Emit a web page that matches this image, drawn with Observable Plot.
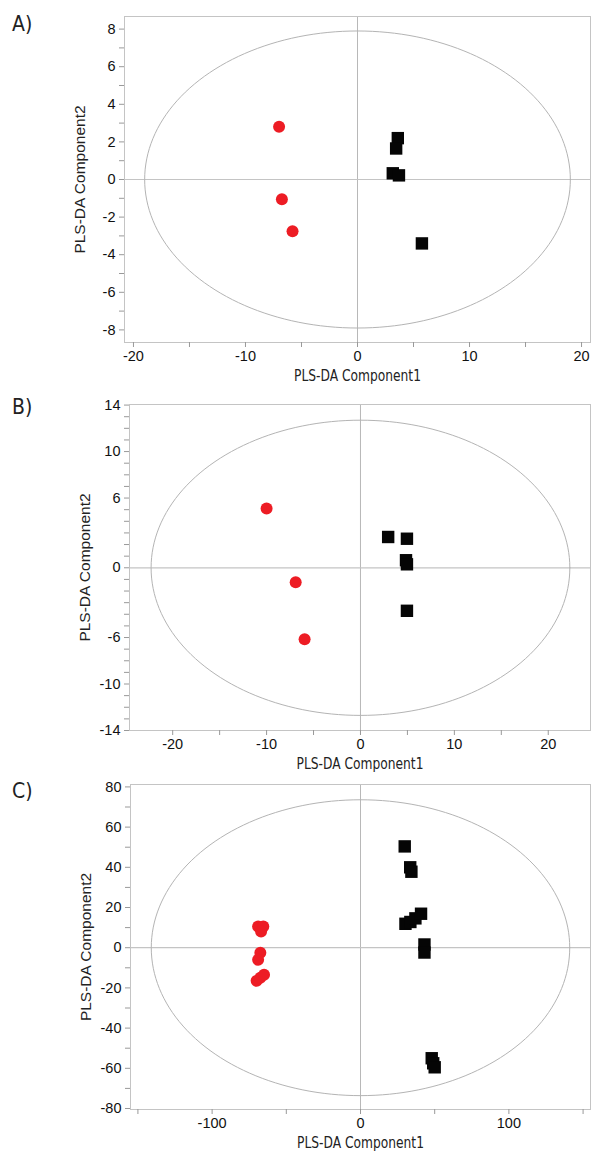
<!DOCTYPE html>
<html>
<head>
<meta charset="utf-8">
<script src="https://cdn.jsdelivr.net/npm/d3@7"></script>
<script src="https://cdn.jsdelivr.net/npm/@observablehq/plot@0.6"></script>
<style>
  html, body { margin: 0; padding: 0; background: #fff; }
  #wrap { position: relative; width: 591px; height: 1153px; overflow: hidden; }
  .panel { position: absolute; left: 0; }
  .plabel { position: absolute; left: 12px; font-family: "Liberation Sans Narrow", "DejaVu Sans Condensed", sans-serif; font-size: 21px; color: #222; line-height: 1; }
  .xtitle text { font-stretch: condensed; }
</style>
</head>
<body>
<div id="wrap"></div>
<script>
// ---------- Data ----------
const panelNames = ["A)", "B)", "C)"];
const xTitle = "PLS-DA Component1";
const yTitle = "PLS-DA Component2";

// Panel A
const aRedX = [-7.0, -6.75, -5.8];
const aRedY = [2.8, -1.05, -2.75];
const aBlackX = [3.6, 3.45, 3.15, 3.7, 5.75];
const aBlackY = [2.2, 1.65, 0.33, 0.22, -3.4];
const aEllipse = [19.0, 7.9];
const aXTicks = [-20, -10, 0, 10, 20];
const aXMinor = [-15, -5, 5, 15];
const aYTicks = [8, 6, 4, 2, 0, -2, -4, -6, -8];
const aYMinor = [7, 5, 3, 1, -1, -3, -5, -7];

// Panel B
const bRedX = [-10.0, -6.9, -5.95];
const bRedY = [5.1, -1.25, -6.15];
const bBlackX = [2.95, 4.95, 4.85, 4.95, 4.95];
const bBlackY = [2.65, 2.5, 0.65, 0.3, -3.7];
const bEllipse = [22.3, 12.7];
const bXTicks = [-20, -10, 0, 10, 20];
const bXMinor = [-15, -5, 5, 15];
const bYTicks = [14, 10, 6, 0, -6, -10, -14];
const bYMinor = [13, 12, 11, 9, 8, 7, 5, 4, 3, 2, 1, -1, -2, -3, -4, -5, -7, -8, -9, -11, -12, -13];

// Panel C
const cRedX = [-69, -65.5, -67, -67.5, -69, -70, -67.5, -65];
const cRedY = [10.5, 10.5, 8, -2.5, -6, -16.5, -15, -13.5];
const cBlackX = [29.8, 33.5, 34.3, 30.3, 33.6, 37, 40.8, 43.1, 43.1, 48, 49, 50];
const cBlackY = [50.4, 40, 37.8, 11.9, 12.8, 14.6, 16.9, 1.6, -2.4, -55, -57.5, -59.5];
const cEllipse = [141, 73.6];
const cXTicks = [-100, 0, 100];
const cXMinor = [-150, -50, 50, 150];
const cYTicks = [80, 60, 40, 20, 0, -20, -40, -60, -80];
const cYMinor = [70, 50, 30, 10, -10, -30, -50, -70];

// ---------- Layout ----------
const layouts = [
  {top: 0,   height: 390, mt: 16, mb: 48, ml: 124, xDomain: [-20.8, 20.8], yDomain: [-8.67, 8.67], labelTop: 14},
  {top: 388, height: 390, mt: 16, mb: 48, ml: 129, xDomain: [-24.6, 24.5], yDomain: [-14, 14.05], labelTop: 397},
  {top: 768, height: 385, mt: 16, mb: 44, ml: 130, xDomain: [-155, 155], yDomain: [-80.5, 81.2], labelTop: 781}
];

const panels = [
  {redX: aRedX, redY: aRedY, blackX: aBlackX, blackY: aBlackY, ell: aEllipse, xT: aXTicks, xM: aXMinor, yT: aYTicks, yM: aYMinor},
  {redX: bRedX, redY: bRedY, blackX: bBlackX, blackY: bBlackY, ell: bEllipse, xT: bXTicks, xM: bXMinor, yT: bYTicks, yM: bYMinor},
  {redX: cRedX, redY: cRedY, blackX: cBlackX, blackY: cBlackY, ell: cEllipse, xT: cXTicks, xM: cXMinor, yT: cYTicks, yM: cYMinor}
];

const tickFont = "'Liberation Sans', Arial, sans-serif";
const titleFontX = "'Liberation Sans Narrow', 'DejaVu Sans', sans-serif";
const wrap = document.getElementById("wrap");

panels.forEach((p, i) => {
  const L = layouts[i];
  const red = p.redX.map((x, k) => ({x, y: p.redY[k]}));
  const black = p.blackX.map((x, k) => ({x, y: p.blackY[k]}));
  const ellipse = d3.range(0, 361, 2).map(a => ({
    x: p.ell[0] * Math.cos(a * Math.PI / 180),
    y: p.ell[1] * Math.sin(a * Math.PI / 180)
  }));
  const fmt = d => String(d);
  const chart = Plot.plot({
    width: 591,
    height: L.height,
    marginTop: L.mt,
    marginBottom: L.mb,
    marginLeft: L.ml,
    marginRight: 1,
    style: {fontFamily: tickFont, fontSize: "14px", color: "#111", background: "transparent"},
    x: {domain: L.xDomain},
    y: {domain: L.yDomain},
    marks: [
      Plot.ruleX([0], {stroke: "#b8b8b8", strokeWidth: 1}),
      Plot.ruleY([0], {stroke: "#c4c4c4", strokeWidth: 1.2}),
      Plot.line(ellipse, {x: "x", y: "y", stroke: "#b4b4b4", strokeWidth: 1}),
      Plot.frame({stroke: "#c4c4c4", strokeWidth: 1}),
      Plot.axisX(p.xT, {tickSize: 5, tickPadding: 3, tickFormat: fmt, stroke: "#999", label: null, fontSize: 14.5}),
      Plot.axisX(p.xM, {tickSize: 5, tickFormat: () => "", stroke: "#999", label: null}),
      Plot.axisY(p.yT, {tickSize: 5, tickPadding: 4, tickFormat: fmt, stroke: "#999", label: null, fontSize: 14.5}),
      Plot.axisY(p.yM, {tickSize: 5, tickFormat: () => "", stroke: "#999", label: null}),
      Plot.text([xTitle], {frameAnchor: "bottom", dy: 38, fontFamily: titleFontX, fontSize: 15, fill: "#222", className: "xtitle"}),
      Plot.text([yTitle], {frameAnchor: "left", dx: -44, rotate: -90, textAnchor: "middle", fontFamily: tickFont, fontSize: 15.5, fill: "#222"}),
      Plot.dot(red, {x: "x", y: "y", r: 6, fill: "#ed1c24", stroke: null}),
      Plot.dot(black, {x: "x", y: "y", r: 7, symbol: "square", fill: "#050505", stroke: null})
    ]
  });
  chart.classList.add("panel");
  chart.style.top = L.top + "px";
  // narrow the x title to the condensed width seen in the reference
  chart.querySelectorAll(".xtitle text").forEach(t => {
    t.setAttribute("textLength", 127);
    t.setAttribute("lengthAdjust", "spacingAndGlyphs");
  });
  wrap.appendChild(chart);

  const lab = document.createElement("div");
  lab.className = "plabel";
  lab.style.top = L.labelTop + "px";
  lab.textContent = panelNames[i];
  wrap.appendChild(lab);
});
</script>
</body>
</html>
